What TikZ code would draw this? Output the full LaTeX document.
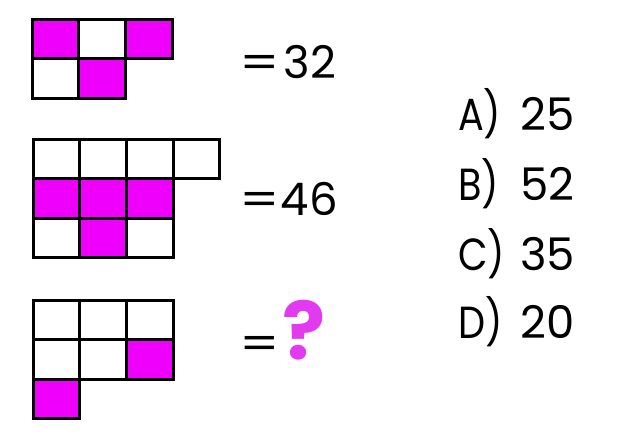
\documentclass[tikz,border=0pt]{standalone}
\usepackage{fontspec}
\setmainfont{Poppins}
\usetikzlibrary{positioning}
\definecolor{PuzzlePink}{RGB}{238,0,252}
\definecolor{QuestionPink}{RGB}{226,58,240}
\tikzset{
  cell/.style={draw=black,line width=3pt,fill=white,inner sep=0pt,
    minimum width=46.7pt,minimum height=39.6pt},
  pinkcell/.style={cell,fill=PuzzlePink},
  equation/.style={anchor=base west,inner sep=0pt,font=\fontsize{45}{50}\selectfont},
  answer/.style={anchor=base west,inner sep=0pt,font=\fontsize{45}{50}\selectfont}
}

\begin{document}
\begin{tikzpicture}[x=1pt,y=-1pt]
  \useasboundingbox[fill=white] (0,0) rectangle (640,434);
  % first grid
  \foreach \c/\r/\s in {0/0/pinkcell,1/0/cell,2/0/pinkcell,0/1/cell,1/1/pinkcell}
    \node[\s] (a-\c-\r) at ({32+46.7*(\c+0.5)},{19+39.6*(\r+0.5)}) {};
  % second grid
  \foreach \c/\r/\s in {0/0/cell,1/0/cell,2/0/cell,3/0/cell,
      0/1/pinkcell,1/1/pinkcell,2/1/pinkcell,
      0/2/cell,1/2/pinkcell,2/2/cell}
    \node[\s] (b-\c-\r) at ({33+46.7*(\c+0.5)},{139+39.6*(\r+0.5)}) {};
  % third grid
  \foreach \c/\r/\s in {0/0/cell,1/0/cell,2/0/cell,
      0/1/cell,1/1/cell,2/1/pinkcell,0/2/pinkcell}
    \node[\s] (c-\c-\r) at ({33+46.7*(\c+0.5)},{300+39.6*(\r+0.5)}) {};
  % equations
  \node[equation] (eq-a) at (239,78) {\scalebox{1.25}[1]{=}\hspace{4pt}32};
  \node[equation] (eq-b) at (239,215) {\scalebox{1.25}[1]{=}\hspace{1pt}46};
  \node[equation] (eq-c) at (239,359)
    {\scalebox{1.25}[1]{=}\hspace{3pt}\textcolor{QuestionPink}{\fontsize{80}{80}\selectfont\bfseries ?}};
  % answer choices
  \foreach \l/\v/\y in {A/25/130,B/52/200,C/35/270,D/20/338}
    \node[answer] (ans-\l) at (458,\y)
      {\makebox[62pt][l]{\scalebox{0.85}[1]{\l)}}\v};
\end{tikzpicture}
\end{document}
